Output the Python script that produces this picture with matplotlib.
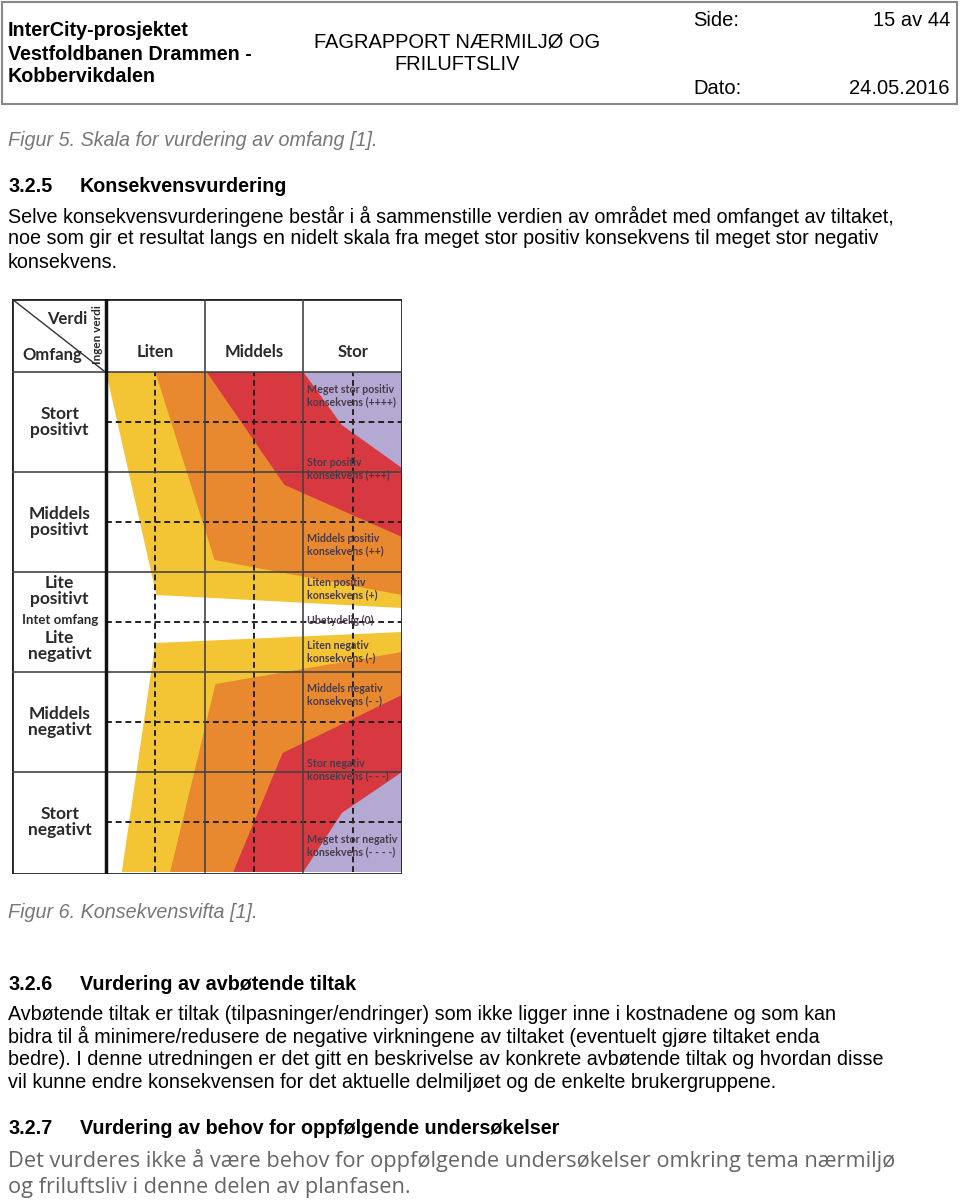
import matplotlib
matplotlib.use("Agg")
import matplotlib.pyplot as plt
from matplotlib.patches import Polygon, Rectangle

# Konsekvensvifta: kolonner (verdi) og rader (omfang)
kolonner = ["Liten", "Middels", "Stor"]
kolonne_x = [0.5, 1.5, 2.5]
rader = ["Stort\npositivt", "Middels\npositivt", "Lite\npositivt", "Intet omfang",
         "Lite\nnegativt", "Middels\nnegativt", "Stort\nnegativt"]
rad_y = [4.0, 2.0, 0.62, 0.04, -0.48, -2.0, -4.0]

# Fargefelt (ytre knekkpunkt -> indre knekkpunkt), øvre og nedre halvdel
felt_farger = ["#f3c535", "#e8882f", "#d8383f", "#b4a9d2"]
ovre_start_x = [0.0, 0.50, 1.02, 2.00]
ovre_knekk_x = [0.51, 1.10, 1.81, 2.39]
ovre_knekk_y = [0.54, 1.24, 2.74, 3.94]
ovre_slutt_y = [0.28, 0.54, 1.70, 3.08]
nedre_start_x = [0.16, 0.65, 1.29, 2.00]
nedre_knekk_x = [0.50, 1.11, 1.79, 2.39]
nedre_knekk_y = [-0.42, -1.24, -2.62, -3.82]
nedre_slutt_y = [-0.20, -0.60, -1.46, -3.00]

konsekvenser = ["Meget stor positiv\nkonsekvens (++++)", "Stor positiv\nkonsekvens (+++)",
                "Middels positiv\nkonsekvens (++)", "Liten positiv\nkonsekvens (+)",
                "Ubetydelig (0)", "Liten negativ\nkonsekvens (-)",
                "Middels negativ\nkonsekvens (- -)", "Stor negativ\nkonsekvens (- - -)",
                "Meget stor negativ\nkonsekvens (- - - -)"]
konsekvens_y = [4.52, 3.06, 1.54, 0.66, 0.04, -0.60, -1.46, -2.96, -4.48]

body1 = ["Selve konsekvensvurderingene består i å sammenstille verdien av området med omfanget av tiltaket,",
         "noe som gir et resultat langs en nidelt skala fra meget stor positiv konsekvens til meget stor negativ",
         "konsekvens."]
body2 = ["Avbøtende tiltak er tiltak (tilpasninger/endringer) som ikke ligger inne i kostnadene og som kan",
         "bidra til å minimere/redusere de negative virkningene av tiltaket (eventuelt gjøre tiltaket enda",
         "bedre). I denne utredningen er det gitt en beskrivelse av konkrete avbøtende tiltak og hvordan disse",
         "vil kunne endre konsekvensen for det aktuelle delmiljøet og de enkelte brukergruppene."]
body3 = ["Det vurderes ikke å være behov for oppfølgende undersøkelser omkring tema nærmiljø",
         "og friluftsliv i denne delen av planfasen."]

fig = plt.figure(figsize=(9.6, 12), dpi=100)

# Side (piksel-koordinater)
page = fig.add_axes([0, 0, 1, 1])
page.set_xlim(0, 960)
page.set_ylim(1200, 0)
page.axis("off")

sans = "Liberation Sans"
fs = 14.2
page.add_patch(Rectangle((2, 2), 955, 102, fill=False, edgecolor="#888888", lw=1.5))
for i, t in enumerate(["InterCity-prosjektet", "Vestfoldbanen Drammen -", "Kobbervikdalen"]):
    page.text(8, 31 + i * 23, t, fontsize=14.2, fontweight="bold", family=sans, va="center")
page.text(457, 42, "FAGRAPPORT NÆRMILJØ OG", fontsize=14.4, family=sans, ha="center", va="center")
page.text(457, 65, "FRILUFTSLIV", fontsize=14.4, family=sans, ha="center", va="center")
page.text(693, 20, "Side:", fontsize=14.5, family=sans, va="center")
page.text(950, 20, "15 av 44", fontsize=14.5, family=sans, ha="right", va="center")
page.text(693, 88, "Dato:", fontsize=14.5, family=sans, va="center")
page.text(950, 88, "24.05.2016", fontsize=14.5, family=sans, ha="right", va="center")

page.text(8, 140, "Figur 5. Skala for vurdering av omfang [1].", fontsize=fs, family=sans,
          style="italic", color="#777777", va="center")
page.text(8, 186, "3.2.5", fontsize=fs, family=sans, fontweight="bold", va="center")
page.text(80, 186, "Konsekvensvurdering", fontsize=fs, family=sans, fontweight="bold", va="center")
for i, t in enumerate(body1):
    page.text(8, 216 + i * 23, t, fontsize=fs, family=sans, va="center")

page.text(8, 912, "Figur 6. Konsekvensvifta [1].", fontsize=fs, family=sans,
          style="italic", color="#777777", va="center")
page.text(8, 985, "3.2.6", fontsize=fs, family=sans, fontweight="bold", va="center")
page.text(80, 985, "Vurdering av avbøtende tiltak", fontsize=fs, family=sans, fontweight="bold", va="center")
for i, t in enumerate(body2):
    page.text(8, 1014 + i * 22.7, t, fontsize=fs, family=sans, va="center")
page.text(8, 1128, "3.2.7", fontsize=fs, family=sans, fontweight="bold", va="center")
page.text(80, 1128, "Vurdering av behov for oppfølgende undersøkelser", fontsize=fs, family=sans,
          fontweight="bold", va="center")
for i, t in enumerate(body3):
    page.text(8, 1160 + i * 27, t, fontsize=15.7, family="Open Sans", color="#666666", va="center")

# Konsekvensvifta
ax = fig.add_axes([12 / 960, 1 - 874 / 1200, 390 / 960, 575 / 1200])
ax.set_xlim(-0.953, 3.0)
ax.set_ylim(-5.04, 6.46)
ax.axis("off")

for i, c in enumerate(felt_farger):
    ax.add_patch(Polygon([(ovre_start_x[i], 5), (3, 5), (3, ovre_slutt_y[i]),
                          (ovre_knekk_x[i], ovre_knekk_y[i])], closed=True, color=c, lw=0))
    ax.add_patch(Polygon([(nedre_start_x[i], -5), (3, -5), (3, nedre_slutt_y[i]),
                          (nedre_knekk_x[i], nedre_knekk_y[i])], closed=True, color=c, lw=0))

# rutenett
for y in [4, 2, 0, -2, -4]:
    ax.plot([0, 3], [y, y], color="#222222", lw=1.4, ls=(0, (3, 2)))
for x in [0.5, 1.5, 2.5]:
    ax.plot([x, x], [-5, 5], color="#222222", lw=1.4, ls=(0, (3, 2)))
for y in [5, 3, 1, -1, -3]:
    ax.plot([-0.953, 3], [y, y], color="#444444", lw=1.2)
for x in [1, 2]:
    ax.plot([x, x], [-5, 6.46], color="#444444", lw=1.2)
ax.plot([0, 0], [-5.04, 6.46], color="#111111", lw=2.5)
ax.add_patch(Rectangle((-0.953, -5.04), 3.953, 11.5, fill=False, edgecolor="#222222", lw=2))
ax.plot([-0.94, -0.02], [6.44, 5.02], color="#333333", lw=1)

fig_font = "Lato"
ax.text(-0.19, 6.06, "Verdi", fontsize=12, fontweight="bold", family=fig_font, color="#2a2a2a",
        ha="right", va="center")
ax.text(-0.24, 5.34, "Omfang", fontsize=12, fontweight="bold", family=fig_font, color="#2a2a2a",
        ha="right", va="center")
ax.text(-0.09, 5.74, "Ingen verdi", fontsize=8.5, fontweight="bold", family=fig_font, color="#2a2a2a",
        rotation=90, ha="center", va="center")
for x, t in zip(kolonne_x, kolonner):
    ax.text(x, 5.4, t, fontsize=12, fontweight="bold", family=fig_font, color="#2a2a2a",
            ha="center", va="center")
for y, t in zip(rad_y, rader):
    small = t == "Intet omfang"
    ax.text(-0.47, y, t, fontsize=9.5 if small else 12.5, fontweight="bold", family=fig_font,
            color="#2a2a2a", ha="center", va="center", linespacing=1.05)
for y, t in zip(konsekvens_y, konsekvenser):
    ax.text(2.04, y, t, fontsize=7.7, fontweight="bold", family=fig_font, color="#4a3a4a",
            ha="left", va="center", linespacing=1.15)

fig.savefig("out.png", dpi=100)
